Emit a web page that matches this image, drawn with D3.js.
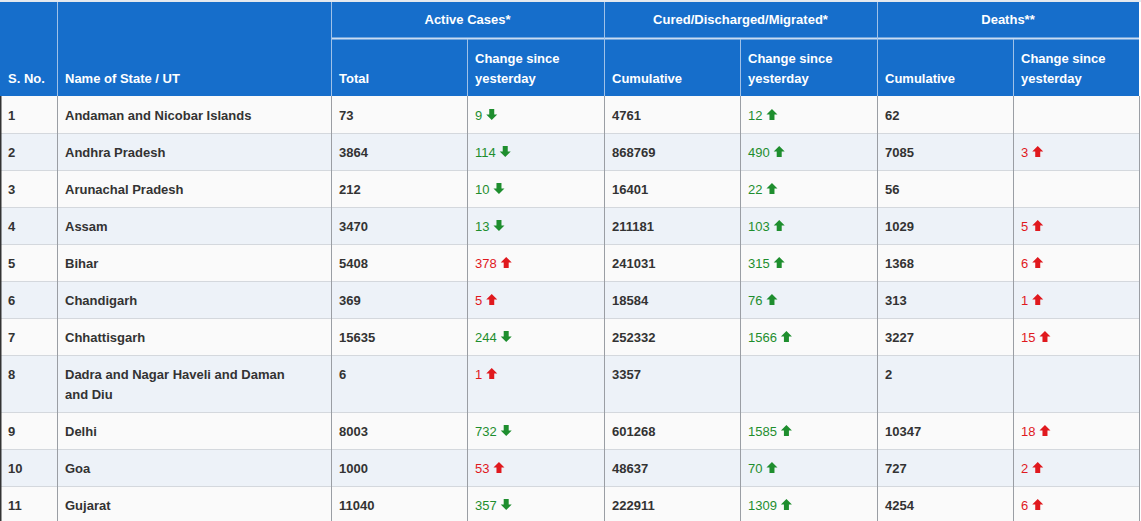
<!DOCTYPE html>
<html>
<head>
<script src="https://d3js.org/d3.v7.min.js"></script>
<style>
  body { margin: 0; background: #fff; }
  text { font-family: "Liberation Sans", Arial, sans-serif; font-size: 13px; }
  .hd { fill: #fff; font-weight: bold; }
  .cell { fill: #333; font-weight: bold; }
  .chg { font-weight: normal; }
</style>
</head>
<body>
<svg id="chart"></svg>
<script>
var sno = [1,2,3,4,5,6,7,8,9,10,11];
var states = ["Andaman and Nicobar Islands","Andhra Pradesh","Arunachal Pradesh","Assam","Bihar","Chandigarh","Chhattisgarh","Dadra and Nagar Haveli and Daman|and Diu","Delhi","Goa","Gujarat"];
var activeTotal = [73,3864,212,3470,5408,369,15635,6,8003,1000,11040];
var activeChange = [-9,-114,-10,-13,378,5,-244,1,-732,53,-357];
var curedCum = [4761,868769,16401,211181,241031,18584,252332,3357,601268,48637,222911];
var curedChange = [12,490,22,103,315,76,1566,null,1585,70,1309];
var deathCum = [62,7085,56,1029,1368,313,3227,2,10347,727,4254];
var deathChange = [null,3,null,5,6,1,15,null,18,2,6];

var colEdges = [0,57,331,467,604,740,877,1013,1139];
var W = 1141, H = 521;
var green = "#1e8e2e", red = "#e0191e";

var svg = d3.select("#chart").attr("width", W).attr("height", H);

// row positions from line counts
var rowH = 37, lineExtra = 20, bodyTop = 96;
var ys = [bodyTop];
states.forEach(function(s) {
  var n = s.split("|").length;
  ys.push(ys[ys.length - 1] + rowH + (n - 1) * lineExtra);
});

// header
svg.append("rect").attr("x", 0).attr("y", 2).attr("width", 1139).attr("height", bodyTop - 2).attr("fill", "#166ecb");
svg.append("line").attr("x1", 0).attr("x2", W).attr("y1", 1).attr("y2", 1).attr("stroke", "#c8d2de");

var groups = ["Active Cases*", "Cured/Discharged/Migrated*", "Deaths**"];
groups.forEach(function(g, i) {
  var x0 = colEdges[2 + i * 2], x1 = colEdges[4 + i * 2];
  svg.append("text").attr("class", "hd").attr("x", (x0 + x1) / 2).attr("y", 24)
    .attr("text-anchor", "middle").text(g);
});
svg.append("line").attr("x1", colEdges[2]).attr("x2", 1139).attr("y1", 38.5).attr("y2", 38.5)
  .attr("stroke", "#c9dcf2").attr("stroke-width", 2);
[2, 4, 6].forEach(function(c) {
  svg.append("line").attr("x1", colEdges[c] + 0.5).attr("x2", colEdges[c] + 0.5).attr("y1", 2).attr("y2", bodyTop)
    .attr("stroke", "#9fc1e8");
});
[1, 3, 5, 7].forEach(function(c) {
  svg.append("line").attr("x1", colEdges[c] + 0.5).attr("x2", colEdges[c] + 0.5)
    .attr("y1", c === 1 ? 2 : 39).attr("y2", bodyTop).attr("stroke", "#9fc1e8");
});
var subs = [["S. No."],["Name of State / UT"],["Total"],["Change since","yesterday"],["Cumulative"],["Change since","yesterday"],["Cumulative"],["Change since","yesterday"]];
subs.forEach(function(s, i) {
  s.forEach(function(line, j) {
    svg.append("text").attr("class", "hd").attr("x", colEdges[i] + 8)
      .attr("y", s.length === 1 ? 83 : 63 + j * 20).text(line);
  });
});

// body
var body = svg.append("g");
states.forEach(function(s, i) {
  body.append("rect").attr("x", 0).attr("y", ys[i]).attr("width", 1139).attr("height", ys[i + 1] - ys[i])
    .attr("fill", i % 2 ? "#edf2f8" : "#fafafa");
});
ys.forEach(function(y, i) {
  if (i > 0) body.append("line").attr("x1", 0).attr("x2", 1139).attr("y1", y + 0.5).attr("y2", y + 0.5).attr("stroke", "#d4d8dd");
});
colEdges.forEach(function(x, i) {
  body.append("line").attr("x1", x + 0.5).attr("x2", x + 0.5).attr("y1", bodyTop).attr("y2", H)
    .attr("stroke", i === 0 ? "#333" : "#9a9ea4").attr("stroke-width", i === 0 ? 2 : 1);
});

function arrow(g, x, y, up, color) {
  // y = baseline; arrow ~10px tall
  var t = up ? "translate(" + x + "," + (y - 11) + ")" : "translate(" + x + "," + (y - 11) + ") rotate(180,5.5,5.5)";
  g.append("path").attr("transform", t)
    .attr("d", "M5.5,0 L11,5.5 L8,5.5 L8,11 L3,11 L3,5.5 L0,5.5 Z").attr("fill", color);
}

function changeCell(col, i, v, goodDown) {
  if (v === null) return;
  var up = v > 0;
  var color = goodDown ? (up ? red : green) : (col === 7 ? red : green);
  var y = ys[i] + 24;
  var t = body.append("text").attr("class", "chg").attr("x", colEdges[col] + 8).attr("y", y)
    .attr("fill", color).text(Math.abs(v));
  var w = t.node().getComputedTextLength();
  arrow(body, colEdges[col] + 8 + w + 4, y, up, color);
}

states.forEach(function(s, i) {
  var y = ys[i] + 24;
  var cellText = function(col, v) {
    body.append("text").attr("class", "cell").attr("x", colEdges[col] + 8).attr("y", y).text(v);
  };
  cellText(0, sno[i]);
  s.split("|").forEach(function(line, j) {
    body.append("text").attr("class", "cell").attr("x", colEdges[1] + 8).attr("y", y + j * 20).text(line);
  });
  cellText(2, activeTotal[i]);
  changeCell(3, i, activeChange[i], true);
  cellText(4, curedCum[i]);
  changeCell(5, i, curedChange[i], false);
  cellText(6, deathCum[i]);
  changeCell(7, i, deathChange[i], false);
});
</script>
</body>
</html>
